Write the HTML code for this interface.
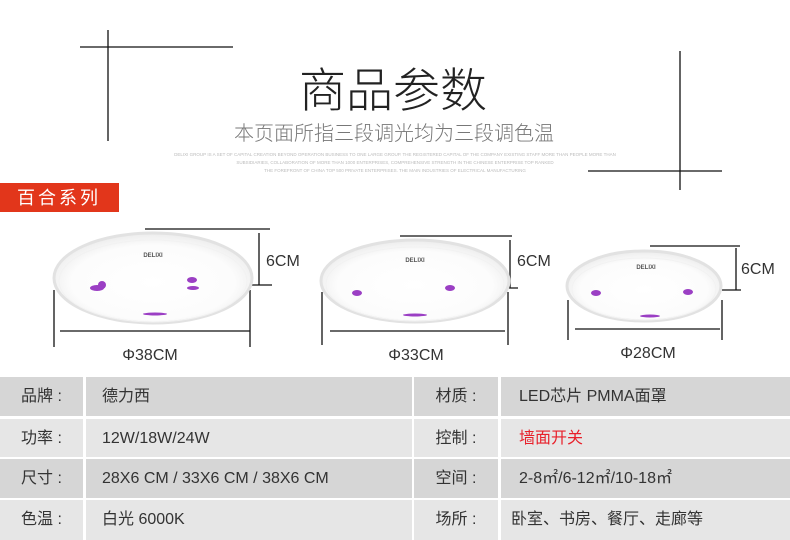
<!DOCTYPE html>
<html><head><meta charset="utf-8"><style>
body{margin:0;width:790px;height:540px;background:#fff;overflow:hidden;position:relative;font-family:"Liberation Sans","Noto Sans CJK SC",sans-serif}
.row{position:absolute;left:0;width:790px;height:39px}
.c{position:absolute;top:0;height:100%;font-size:16px;color:#333;line-height:39px}
</style></head><body>
<svg width="790" height="380" style="position:absolute;left:0;top:0">
<defs>
<radialGradient id="g" cx="50%" cy="55%" r="55%"><stop offset="0" stop-color="#fff"/><stop offset="0.75" stop-color="#fcfcfc"/><stop offset="1" stop-color="#ececec"/></radialGradient>
</defs>
<g stroke="#111" stroke-width="1.3">
<line x1="108" y1="30" x2="108" y2="141"/><line x1="80" y1="47" x2="233" y2="47"/>
<line x1="680" y1="51" x2="680" y2="190"/><line x1="588" y1="171" x2="722" y2="171"/>
<line x1="145" y1="229" x2="270" y2="229"/><line x1="259" y1="233" x2="259" y2="285"/><line x1="250" y1="285" x2="272" y2="285"/>
<line x1="60" y1="331" x2="250" y2="331"/><line x1="54" y1="290" x2="54" y2="347"/><line x1="250" y1="290" x2="250" y2="347"/>
<line x1="400" y1="236" x2="512" y2="236"/><line x1="510" y1="240" x2="510" y2="288"/><line x1="500" y1="288" x2="518" y2="288"/>
<line x1="330" y1="331" x2="505" y2="331"/><line x1="322" y1="292" x2="322" y2="345"/><line x1="508" y1="292" x2="508" y2="345"/>
<line x1="650" y1="246" x2="740" y2="246"/><line x1="736" y1="248" x2="736" y2="290"/><line x1="722" y1="290" x2="741" y2="290"/>
<line x1="575" y1="329" x2="720" y2="329"/><line x1="568" y1="300" x2="568" y2="340"/><line x1="722" y1="300" x2="722" y2="340"/>
</g>
<g stroke="#e2e2e2" stroke-width="3" fill="url(#g)">
<ellipse cx="153" cy="278" rx="99" ry="45"/>
<ellipse cx="415" cy="281" rx="94" ry="41"/>
<ellipse cx="644" cy="286" rx="77" ry="35"/>
</g>
<g stroke="#f2f2f2" stroke-width="1" fill="none">
<ellipse cx="153" cy="281" rx="94" ry="41"/>
<ellipse cx="415" cy="284" rx="89" ry="37"/>
<ellipse cx="644" cy="289" rx="72" ry="31"/>
</g>
<g fill="#9b3fc4">
<ellipse cx="97" cy="288" rx="7" ry="3"/><ellipse cx="102" cy="285" rx="4" ry="4"/><ellipse cx="192" cy="280" rx="5" ry="3"/><ellipse cx="193" cy="288" rx="6" ry="2"/><ellipse cx="155" cy="314" rx="12" ry="1.5"/>
<ellipse cx="357" cy="293" rx="5" ry="3"/><ellipse cx="450" cy="288" rx="5" ry="3"/><ellipse cx="415" cy="315" rx="12" ry="1.5"/>
<ellipse cx="596" cy="293" rx="5" ry="3"/><ellipse cx="688" cy="292" rx="5" ry="3"/><ellipse cx="650" cy="316" rx="10" ry="1.5"/>
</g>
<g font-size="6" fill="#555" font-weight="bold" text-anchor="middle"><text x="153" y="257">DELIXI</text><text x="415" y="262">DELIXI</text><text x="646" y="269">DELIXI</text></g>
<g font-size="16" fill="#333"><text x="266" y="266">6CM</text><text x="517" y="266">6CM</text><text x="741" y="274">6CM</text>
<text x="150" y="360" text-anchor="middle">Φ38CM</text><text x="416" y="360" text-anchor="middle">Φ33CM</text><text x="648" y="358" text-anchor="middle">Φ28CM</text></g>
<text x="393" y="107" text-anchor="middle" font-size="47" fill="#222" font-family="Noto Sans CJK SC,sans-serif" font-weight="200">商品参数</text>
<text x="394" y="140" text-anchor="middle" font-size="20" fill="#777" font-family="Noto Sans CJK SC,sans-serif" font-weight="300">本页面所指三段调光均为三段调色温</text>
<g font-size="4.5" fill="#bbb" text-anchor="middle"><text x="395" y="156">DELIXI GROUP IS A SET OF CAPITAL CREATION BEYOND OPERATION BUSINESS TO ONE LARGE GROUP. THE REGISTERED CAPITAL OF THE COMPANY EXISTING STAFF MORE THAN PEOPLE MORE THAN</text><text x="395" y="164">SUBSIDIARIES, COLLABORATION OF MORE THAN 1000 ENTERPRISES, COMPREHENSIVE STRENGTH IN THE CHINESE ENTERPRISE TOP RANKED</text><text x="395" y="172">THE FOREFRONT OF CHINA TOP 500 PRIVATE ENTERPRISES. THE MAIN INDUSTRIES OF ELECTRICAL MANUFACTURING</text></g>
<rect x="0" y="183" width="119" height="29" fill="#e2361b"/>
<text x="59" y="204" text-anchor="middle" font-size="18" fill="#fff" letter-spacing="3">百合系列</text>
</svg>
<div class="row" style="top:377px"><div class="c" style="left:0;width:83px;background:#d6d6d6;text-align:center">品牌 :</div><div class="c" style="left:86px;width:326px;background:#d6d6d6;padding-left:16px;box-sizing:border-box">德力西</div><div class="c" style="left:414px;width:84px;background:#d6d6d6;text-align:center">材质 :</div><div class="c" style="left:501px;width:289px;background:#d6d6d6;padding-left:18px;box-sizing:border-box">LED芯片 PMMA面罩</div></div>
<div class="row" style="top:419px;height:38px"><div class="c" style="left:0;width:83px;background:#e6e6e6;text-align:center">功率 :</div><div class="c" style="left:86px;width:326px;background:#e6e6e6;padding-left:16px;box-sizing:border-box">12W/18W/24W</div><div class="c" style="left:414px;width:84px;background:#e6e6e6;text-align:center">控制 :</div><div class="c" style="left:501px;width:289px;background:#e6e6e6;padding-left:18px;box-sizing:border-box;color:#e8202a">墙面开关</div></div>
<div class="row" style="top:459px"><div class="c" style="left:0;width:83px;background:#d6d6d6;text-align:center">尺寸 :</div><div class="c" style="left:86px;width:326px;background:#d6d6d6;padding-left:16px;box-sizing:border-box">28X6 CM / 33X6 CM / 38X6 CM</div><div class="c" style="left:414px;width:84px;background:#d6d6d6;text-align:center">空间 :</div><div class="c" style="left:501px;width:289px;background:#d6d6d6;padding-left:18px;box-sizing:border-box">2-8㎡/6-12㎡/10-18㎡</div></div>
<div class="row" style="top:500px;height:40px"><div class="c" style="left:0;width:83px;background:#e6e6e6;text-align:center">色温 :</div><div class="c" style="left:86px;width:326px;background:#e6e6e6;padding-left:16px;box-sizing:border-box">白光 6000K</div><div class="c" style="left:414px;width:84px;background:#e6e6e6;text-align:center">场所 :</div><div class="c" style="left:501px;width:289px;background:#e6e6e6;padding-left:10px;box-sizing:border-box">卧室、书房、餐厅、走廊等</div></div>
</body></html>
